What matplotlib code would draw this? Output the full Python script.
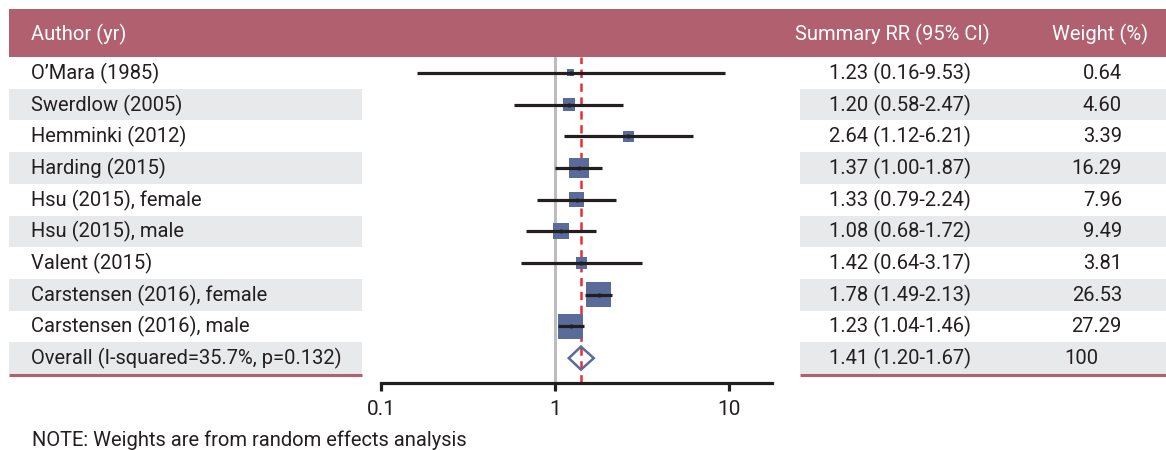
import matplotlib
matplotlib.use("Agg")
import matplotlib.pyplot as plt
import numpy as np
from matplotlib.patches import Rectangle

plt.rcParams['font.family'] = ['Roboto', 'DejaVu Sans']
plt.rcParams['lines.scale_dashes'] = False

authors = ["O\u2019Mara (1985)", "Swerdlow (2005)", "Hemminki (2012)", "Harding (2015)",
           "Hsu (2015), female", "Hsu (2015), male", "Valent (2015)",
           "Carstensen (2016), female", "Carstensen (2016), male"]
rr = [1.23, 1.20, 2.64, 1.37, 1.33, 1.08, 1.42, 1.78, 1.23]
lo = [0.16, 0.58, 1.12, 1.00, 0.79, 0.68, 0.64, 1.49, 1.04]
hi = [9.53, 2.47, 6.21, 1.87, 2.24, 1.72, 3.17, 2.13, 1.46]
weights = [0.64, 4.60, 3.39, 16.29, 7.96, 9.49, 3.81, 26.53, 27.29]
weight_labels = ["0.64", "4.60", "3.39", "16.29", "7.96", "9.49", "3.81", "26.53", "27.29"]
overall_label = "Overall (I-squared=35.7%, p=0.132)"
overall_rr, overall_lo, overall_hi = 1.41, 1.20, 1.67
overall_weight_label = "100"
headers = ["Author (yr)", "Summary RR (95% CI)", "Weight (%)"]
xticks = [0.1, 1, 10]
xtick_labels = ["0.1", "1", "10"]
note = "NOTE: Weights are from random effects analysis"

W, H = 1166, 450
HEAD = "#b0606f"
GRAY = "#e8e9eb"
BLUE = "#586b99"
TXT = "#231f20"
FS = 14.5

fig = plt.figure(figsize=(W / 100, H / 100), dpi=100)
bg = fig.add_axes([0, 0, 1, 1])
bg.set_xlim(0, W)
bg.set_ylim(H, 0)
bg.axis('off')

ROW_TOP, ROW_H = 57, 31.7
n = len(authors) + 1
# header
bg.add_patch(Rectangle((9, 9), W - 9, ROW_TOP - 9, color=HEAD, lw=0))
bg.text(31, 34, headers[0], color='white', fontsize=FS, va='center', ha='left')
bg.text(795, 34, headers[1], color='white', fontsize=FS, va='center', ha='left')
bg.text(1148, 34, headers[2], color='white', fontsize=FS, va='center', ha='right')

all_labels = authors + [overall_label]
sum_labels = ["{:.2f} ({:.2f}-{:.2f})".format(r, l, h) for r, l, h in zip(rr, lo, hi)] + \
             ["{:.2f} ({:.2f}-{:.2f})".format(overall_rr, overall_lo, overall_hi)]
w_labels = weight_labels + [overall_weight_label]
for i in range(n):
    top = ROW_TOP + ROW_H * i
    cy = top + ROW_H / 2 + 0.5
    if i % 2 == 1:
        bg.add_patch(Rectangle((9, top), 353, ROW_H, color=GRAY, lw=0))
        bg.add_patch(Rectangle((800, top), W - 800, ROW_H, color=GRAY, lw=0))
    bg.text(31, cy, all_labels[i], fontsize=FS, va='center', ha='left', color=TXT)
    bg.text(829, cy, sum_labels[i], fontsize=FS, va='center', ha='left', color=TXT)
    if i < n - 1:
        bg.text(1122, cy, w_labels[i], fontsize=FS, va='center', ha='right', color=TXT)
    else:
        bg.text(1064, cy, w_labels[i], fontsize=FS, va='center', ha='left', color=TXT)
bot = ROW_TOP + ROW_H * n
bg.plot([9, 362], [bot + 1, bot + 1], color=HEAD, lw=2.2, solid_capstyle='butt')
bg.plot([800, W], [bot + 1, bot + 1], color=HEAD, lw=2.2, solid_capstyle='butt')
bg.text(32, 430, note, fontsize=FS, va='top', ha='left', color=TXT)

# forest axes
x0, x1 = 381, 772
ybot = 383
ax = fig.add_axes([x0 / W, (H - ybot) / H, (x1 - x0) / W, (ybot - ROW_TOP) / H])
ax.patch.set_alpha(0)
ax.set_xscale('log')
decade = 174.0
ax.set_xlim(0.1, 0.1 * 10 ** ((x1 - x0) / decade))
ax.set_ylim((ybot - ROW_TOP) / ROW_H, 0)
for s in ['top', 'left', 'right']:
    ax.spines[s].set_visible(False)
ax.spines['bottom'].set_linewidth(2.3)
ax.spines['bottom'].set_color(TXT)
ax.set_yticks([])
ax.set_xticks(xticks)
ax.set_xticklabels(xtick_labels, fontsize=FS + 0.5, color=TXT)
ax.minorticks_off()
ax.tick_params(axis='x', length=6, width=2.3, color=TXT, pad=6)

ax.axvline(1, color='#bdbcc1', lw=2.2, zorder=1)
ax.axvline(overall_rr, color='#ee2a33', lw=1.8, dashes=(6, 4), zorder=1)

ys = np.arange(len(authors)) + 0.5
sides_px = 4.14 * np.sqrt(weights) + 3.4
ax.scatter(rr, ys, marker='s', s=(sides_px * 0.72) ** 2, color=BLUE, lw=0, zorder=2)
ax.hlines(ys, lo, hi, color=TXT, lw=2.3, zorder=3)
ax.scatter(rr, ys, marker='o', s=9, color=TXT, lw=0, zorder=4)

yo = len(authors) + 0.5
dh = 11.5 / ROW_H
ax.fill([overall_lo, overall_rr, overall_hi, overall_rr, overall_lo],
        [yo, yo - dh, yo, yo + dh, yo], facecolor='none', edgecolor=BLUE, lw=1.8, zorder=3)

fig.savefig("out.png", dpi=100)
